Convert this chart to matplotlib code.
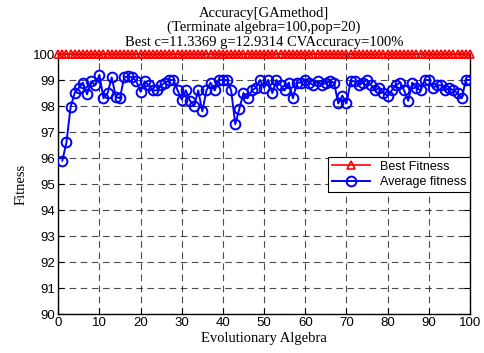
import matplotlib
matplotlib.use("Agg")
import matplotlib.pyplot as plt
import numpy as np

gens_best = list(range(0, 101))
best_fitness = [100] * 101

gens_avg = list(range(1, 101))
avg_fitness = [
    95.9, 96.6, 97.95, 98.5, 98.7, 98.9, 98.45, 98.95, 98.8, 99.2,
    98.3, 98.5, 99.1, 98.35, 98.3, 99.1, 99.15, 99.1, 98.95, 98.55,
    98.95, 98.8, 98.6, 98.6, 98.8, 98.9, 99.0, 99.0, 98.6, 98.25,
    98.6, 98.2, 98.0, 98.6, 97.8, 98.6, 98.9, 98.6, 99.0, 99.0,
    99.0, 98.6, 97.3, 97.9, 98.5, 98.3, 98.6, 98.7, 99.0, 98.7,
    99.0, 98.5, 99.0, 98.8, 98.6, 98.9, 98.3, 98.9, 98.9, 99.0,
    98.9, 98.8, 98.95, 98.8, 98.9, 98.95, 98.9, 98.1, 98.4, 98.1,
    98.95, 98.95, 98.8, 98.9, 99.0, 98.8, 98.6, 98.7, 98.5, 98.4,
    98.6, 98.8, 98.9, 98.6, 98.2, 98.9, 98.7, 98.6, 99.0, 99.0,
    98.7, 98.8, 98.8, 98.6, 98.7, 98.6, 98.5, 98.3, 99.0, 99.0,
]

title_lines = ["Accuracy[GAmethod]",
               "(Terminate algebra=100,pop=20)",
               "Best c=11.3369 g=12.9314 CVAccuracy=100%"]

fig = plt.figure(figsize=(4.85, 3.53), dpi=100)
ax = fig.add_axes([0.12, 0.110, 0.849, 0.737])

serif = "Liberation Serif"
sans = "Liberation Sans"

ax.plot(gens_best, best_fitness, color="red", marker="^", markersize=6,
        markerfacecolor="none", markeredgewidth=1.2, linewidth=1.2,
        label="Best Fitness", clip_on=False, zorder=5)
ax.plot(gens_avg, avg_fitness, color="blue", marker="o", markersize=7,
        markerfacecolor="none", markeredgewidth=1.4, linewidth=1.4,
        label="Average fitness", zorder=4)

ax.set_xlim(0, 100)
ax.set_ylim(90, 100)
ax.set_xticks(np.arange(0, 101, 10))
ax.set_yticks(np.arange(90, 101, 1))
ax.grid(True, color="black", linestyle=(0, (6, 4)), linewidth=0.8, alpha=0.7)
ax.tick_params(direction="in", top=True, right=True, length=4, labelsize=9.5,
               pad=2)
for lab in ax.get_xticklabels() + ax.get_yticklabels():
    lab.set_fontfamily(sans)
for s in ax.spines.values():
    s.set_linewidth(1.0)

ax.set_title("\n".join(title_lines), fontsize=10.5, fontfamily=serif,
             linespacing=1.12, pad=6)
ax.set_xlabel("Evolutionary Algebra", fontsize=10.5, fontfamily=serif, labelpad=2)
ax.set_ylabel("Fitness", fontsize=10.5, fontfamily=serif, labelpad=4)

leg = ax.legend(loc="upper right", bbox_to_anchor=(1.0, 0.605),
                borderaxespad=0.0,
                prop={"family": sans, "size": 9}, frameon=True,
                fancybox=False, framealpha=1, edgecolor="black",
                borderpad=0.3, labelspacing=0.3, handlelength=3.0)
leg.get_frame().set_linewidth(0.8)

fig.savefig("out.png", dpi=100)
